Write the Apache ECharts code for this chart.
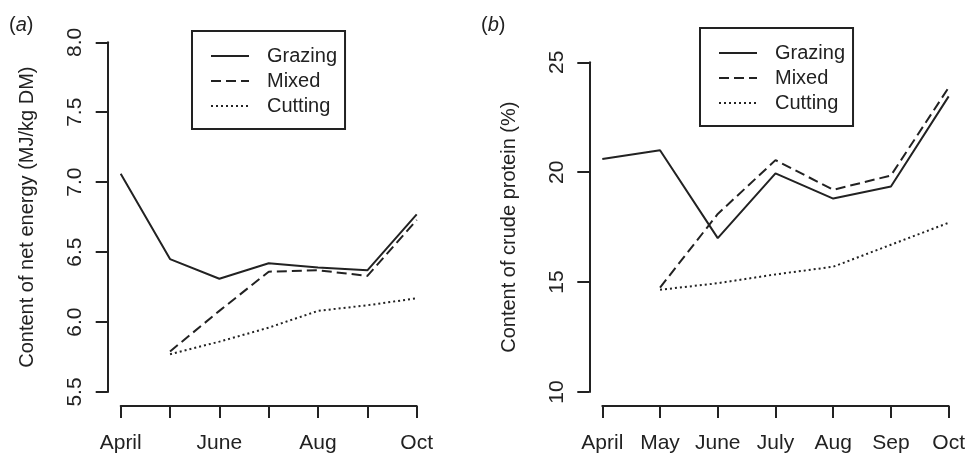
<!DOCTYPE html>
<html><head><meta charset="utf-8">
<script src="https://cdn.jsdelivr.net/npm/echarts@6/dist/echarts.min.js"></script>
<style>html,body{margin:0;padding:0;background:#fff}#c{width:968px;height:454px}</style>
</head><body><div id="c"></div>
<script>
const months = ['April','May','June','July','Aug','Sep','Oct'];
const seriesNames = ['Grazing','Mixed','Cutting'];
const energyGrazing = [7.06, 6.45, 6.31, 6.42, 6.39, 6.37, 6.77];
const energyMixed   = [null, 5.79, 6.08, 6.36, 6.37, 6.33, 6.73];
const energyCutting = [null, 5.77, 5.86, 5.96, 6.08, 6.12, 6.17];
const proteinGrazing = [20.6, 21.0, 17.0, 19.95, 18.8, 19.35, 23.45];
const proteinMixed   = [null, 14.75, 18.1, 20.55, 19.2, 19.85, 23.85];
const proteinCutting = [null, 14.65, 14.95, 15.35, 15.7, 16.7, 17.7];
const energyAxis = {min: 5.5, max: 8.0, interval: 0.5};
const proteinAxis = {min: 10, max: 25, interval: 5};
const energyTitle = 'Content of net energy (MJ/kg DM)';
const proteinTitle = 'Content of crude protein (%)';

const ink = '#222222';
const font = 'Liberation Sans, Arial, Helvetica, sans-serif';
const dashTypes = ['solid', [10, 5], [2, 3]];

function xAxisCfg(gridIndex, labelInterval, off) {
  return {
    type: 'category', gridIndex, data: months, boundaryGap: false, offset: off,
    axisLine: {show: true, lineStyle: {color: ink, width: 2}},
    axisTick: {show: true, interval: 0, length: 12, lineStyle: {color: ink, width: 2}},
    axisLabel: {interval: labelInterval, color: ink, fontSize: 21, fontFamily: font, margin: 27},
    splitLine: {show: false}
  };
}
function yAxisCfg(gridIndex, ax, name, nameGap, fmt) {
  return {
    type: 'value', gridIndex, min: ax.min, max: ax.max, interval: ax.interval, offset: 13,
    name, nameLocation: 'middle', nameRotate: 90, nameGap,
    nameTextStyle: {color: ink, fontSize: 20, fontFamily: font},
    axisLine: {show: true, lineStyle: {color: ink, width: 2}},
    axisTick: {show: true, length: 12, lineStyle: {color: ink, width: 2}},
    axisLabel: {rotate: 90, color: ink, fontSize: 21, fontFamily: font, margin: 22, formatter: fmt},
    splitLine: {show: false}
  };
}
function mk(name, data, idx, i) {
  return {
    name, type: 'line', data, xAxisIndex: idx, yAxisIndex: idx,
    showSymbol: false, symbol: 'none', connectNulls: false, silent: true,
    lineStyle: {color: ink, width: 2, type: dashTypes[i]},
    itemStyle: {color: ink}
  };
}
function legendCfg(left, top) {
  return {
    show: true, data: seriesNames, orient: 'vertical', left, top,
    borderColor: ink, borderWidth: 2, borderRadius: 0,
    padding: [15, 8, 13, 18], itemGap: 5, itemWidth: 38, itemHeight: 20,
    selectedMode: false,
    itemStyle: {color: 'rgba(0,0,0,0)', borderWidth: 0, opacity: 0},
    textStyle: {color: ink, fontSize: 20, fontFamily: font, padding: [0, 0, 0, 13]}
  };
}

const chart = echarts.init(document.getElementById('c'), null, {renderer: 'canvas'});
const rich = {
  n: {fontSize: 20, color: ink, fontFamily: font, fontWeight: 'normal'},
  i: {fontSize: 20, color: ink, fontFamily: font, fontStyle: 'italic', fontWeight: 'normal'}
};
chart.setOption({
  backgroundColor: '#fff',
  animation: false,
  title: [
    {text: '{n|(}{i|a}{n|)}', left: 9, top: 15, padding: 0, textStyle: {fontWeight: 'normal', rich}},
    {text: '{n|(}{i|b}{n|)}', left: 481, top: 15, padding: 0, textStyle: {fontWeight: 'normal', rich}}
  ],
  legend: [legendCfg(192, 31), legendCfg(700, 28)],
  grid: [
    {left: 120.7, right: 551.3, top: 42.3, bottom: 62},
    {left: 602.3, right: 16.3, top: 62.3, bottom: 61.7}
  ],
  xAxis: [xAxisCfg(0, 1, 14), xAxisCfg(1, 0, 14)],
  yAxis: [
    yAxisCfg(0, energyAxis, energyTitle, 70, v => v.toFixed(1)),
    yAxisCfg(1, proteinAxis, proteinTitle, 70, v => String(v))
  ],
  series: [
    mk('Grazing', energyGrazing, 0, 0),
    mk('Mixed', energyMixed, 0, 1),
    mk('Cutting', energyCutting, 0, 2),
    mk('Grazing', proteinGrazing, 1, 0),
    mk('Mixed', proteinMixed, 1, 1),
    mk('Cutting', proteinCutting, 1, 2)
  ]
});
</script></body></html>
